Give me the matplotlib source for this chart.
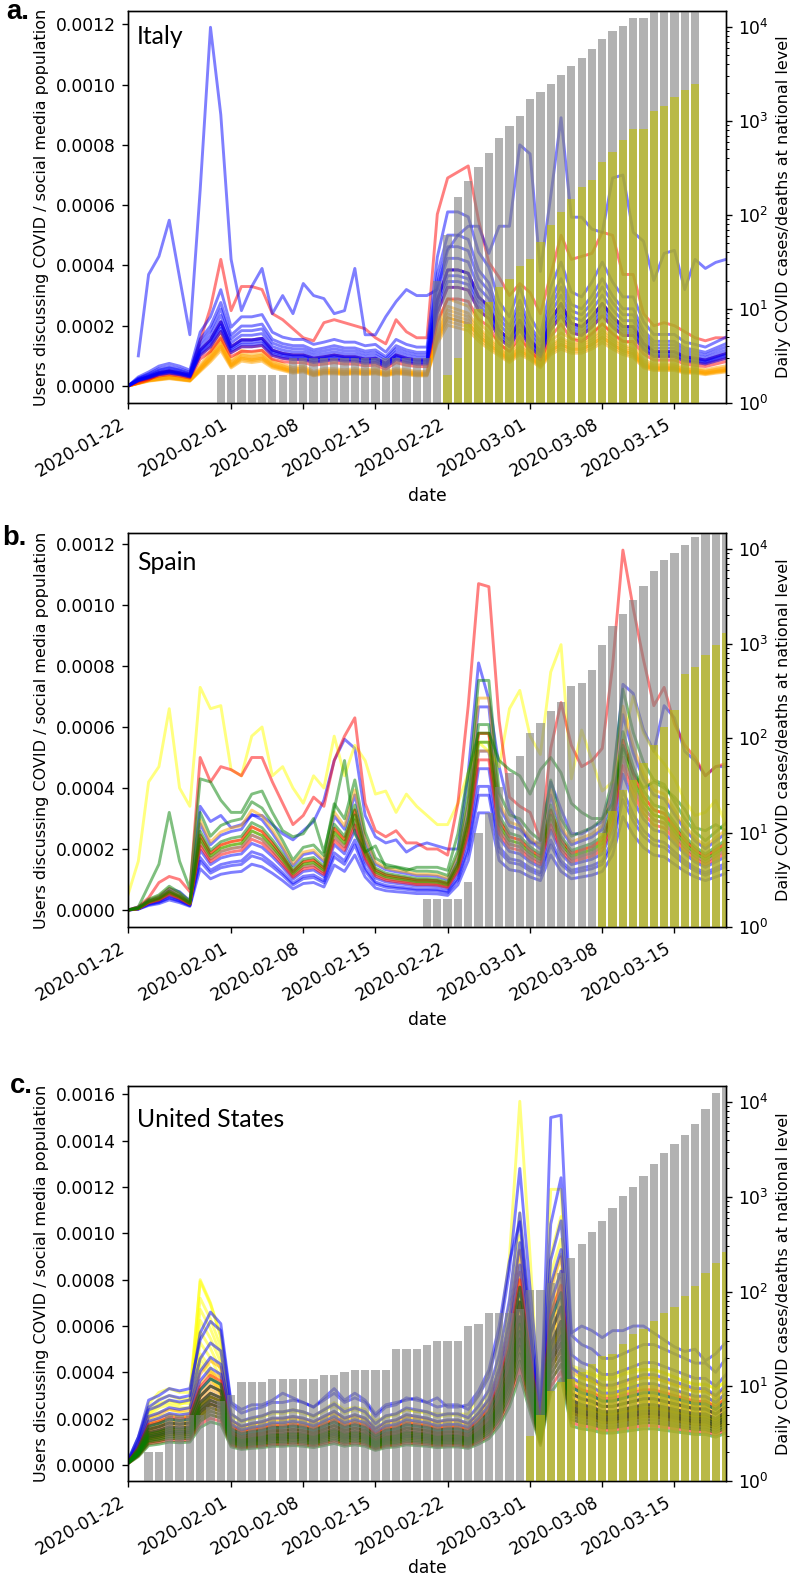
import numpy as np
import pandas as pd
import matplotlib
matplotlib.use("Agg")
import matplotlib.pyplot as plt
import matplotlib.dates as mdates

nan = np.nan
W, H, DPI = 793, 1578, 123
plt.rcParams['font.size'] = 10

dates = pd.date_range("2020-01-22", "2020-03-20", freq="D")
tick_dates = pd.to_datetime(["2020-01-22", "2020-02-01", "2020-02-08", "2020-02-15",
                             "2020-02-22", "2020-03-01", "2020-03-08", "2020-03-15"])

# ---------------- ITALY ----------------
it_cases = [0]*9 + [2]*7 + [3]*14 + [20, 62, 155, 229, 322, 453, 655, 888, 1128, 1694, 2036, 2502,
            3089, 3858, 4636, 5883, 7375, 9172, 10149, 12462, 12462, 17660, 21157, 24747, 27980,
            31506, 0, 0, 0]
it_deaths = [0]*30 + [1, 2, 3, 7, 10, 12, 17, 21, 29, 34, 52, 79, 107, 148, 197, 233, 366, 463, 631,
             827, 827, 1266, 1441, 1809, 2158, 2503, 0, 0, 0]

it_outlier_blue = [nan, 0.00010, 0.00037, 0.00043, 0.00055, 0.00036, 0.00017, 0.00065, 0.00119, 0.00090,
                   0.00042, 0.00025, 0.00033, 0.00039, 0.00024, 0.00030, 0.00024, 0.00034, 0.00030, 0.00029,
                   0.00024, 0.00025, 0.00039, 0.00017, 0.00017, 0.00023, 0.00028, 0.00032, 0.00030, 0.00030,
                   0.00032, 0.00045, 0.00050, 0.00053, 0.00053, 0.00044, 0.00053, 0.00053, 0.00080, 0.00077,
                   0.00038, 0.00063, 0.00089, 0.00056, 0.00056, 0.00052, 0.00051, 0.00069, 0.00070, 0.00051,
                   0.00048, 0.00035, 0.00044, 0.00045, 0.00032, 0.00042, 0.00039, 0.00041, 0.00042]
it_outlier_red = [0.0, 0.00001, 0.00002, 0.00004, 0.00005, 0.00004, 0.00004, 0.00015, 0.00026, 0.00042,
                  0.00025, 0.00033, 0.00033, 0.00032, 0.00024, 0.00022, 0.00019, 0.00016, 0.00015, 0.00021,
                  0.00022, 0.00021, 0.00020, 0.00019, 0.00016, 0.00014, 0.00022, 0.00018, 0.00016, 0.00016,
                  0.00057, 0.00069, 0.00071, 0.00073, 0.00055, 0.00041, 0.00036, 0.00030, 0.00034, 0.00031,
                  0.00024, 0.00037, 0.00050, 0.00042, 0.00043, 0.00044, 0.00051, 0.00050, 0.00037, 0.00037,
                  0.00024, 0.00020, 0.00021, 0.00020, 0.00018, 0.00016, 0.00015, 0.00016, 0.00016]
it_profile = [0.0, 0.000020, 0.000031, 0.000044, 0.000050, 0.000044, 0.000035, 0.000119, 0.000153, 0.000213,
              0.000130, 0.000153, 0.000153, 0.000158, 0.000119, 0.000108, 0.000103, 0.000103, 0.000092, 0.000097,
              0.000103, 0.000097, 0.000097, 0.000089, 0.000092, 0.000075, 0.000103, 0.000092, 0.000086, 0.000086,
              0.000285, 0.000385, 0.000385, 0.000374, 0.000296, 0.000263, 0.000186, 0.000153, 0.000219, 0.000153,
              0.000114, 0.000219, 0.000274, 0.000208, 0.000197, 0.000230, 0.000274, 0.000230, 0.000197, 0.000197,
              0.000142, 0.000114, 0.000114, 0.000114, 0.000097, 0.000092, 0.000086, 0.000097, 0.000108]
it_orange_profile = [0.0, 0.000010, 0.000020, 0.000025, 0.000030, 0.000025, 0.000020, 0.000060, 0.000100, 0.000147,
                     0.000075, 0.000103, 0.000097, 0.000103, 0.000075, 0.000064, 0.000053, 0.000058, 0.000042, 0.000050,
                     0.000050, 0.000047, 0.000050, 0.000047, 0.000050, 0.000042, 0.000050, 0.000047, 0.000042, 0.000042,
                     0.000175, 0.000252, 0.000241, 0.000230, 0.000186, 0.000153, 0.000125, 0.000097, 0.000130, 0.000108,
                     0.000075, 0.000130, 0.000153, 0.000136, 0.000136, 0.000153, 0.000180, 0.000153, 0.000130, 0.000119,
                     0.000075, 0.000064, 0.000064, 0.000064, 0.000053, 0.000053, 0.000047, 0.000053, 0.000058]
it_blue_levels = [1.5, 1.3, 1.2, 1.1, 1.0, 1.0, 0.95, 0.9, 0.85]
it_red_levels = [1.0, 0.85, 0.75]
it_orange_levels = [1.15, 1.05, 1.0, 0.95, 0.9, 0.9, 0.85, 0.8]

# ---------------- SPAIN ----------------
es_cases = [0]*29 + [2, 2, 2, 2, 3, 10, 16, 30, 43, 64, 113, 146, 191, 238, 357, 382, 519, 970, 1545,
                     2050, 2860, 4080, 5800, 7580, 9080, 11100, 13500, 16500, 19000, 22000]
es_deaths = [0]*46 + [10, 17, 28, 36, 55, 85, 130, 200, 480, 570, 760, 970, 1300]

es_outlier_yellow = [0.00005, 0.00016, 0.00042, 0.00047, 0.00066, 0.00040, 0.00034, 0.00073, 0.00066, 0.00067,
                     0.00046, 0.00044, 0.00057, 0.00060, 0.00044, 0.00047, 0.00040, 0.00035, 0.00044, 0.00040,
                     0.00057, 0.00044, 0.00054, 0.00049, 0.00038, 0.00039, 0.00032, 0.00038, 0.00034, 0.00031,
                     0.00028, 0.00028, 0.00035, 0.00045, 0.00055, 0.00052, 0.00047, 0.00066, 0.00072, 0.00057,
                     0.00051, 0.00078, 0.00087, 0.00043, 0.00059, 0.00049, 0.00039, 0.00042, 0.00055, 0.00070,
                     0.00058, 0.00052, 0.00048, 0.00043, 0.00036, 0.00031, 0.00032, 0.00036, 0.00028]
es_outlier_red = [0.0, 0.00001, 0.00004, 0.00009, 0.00011, 0.00010, 0.00006, 0.00050, 0.00042, 0.00047,
                  0.00046, 0.00044, 0.00050, 0.00050, 0.00042, 0.00035, 0.00028, 0.00031, 0.00037, 0.00034,
                  0.00049, 0.00057, 0.00063, 0.00035, 0.00026, 0.00024, 0.00026, 0.00022, 0.00022, 0.00020,
                  0.00020, 0.00018, 0.00035, 0.00067, 0.00107, 0.00106, 0.00062, 0.00037, 0.00034, 0.00032,
                  0.00023, 0.00053, 0.00068, 0.00054, 0.00047, 0.00049, 0.00053, 0.00080, 0.00118, 0.00099,
                  0.00082, 0.00067, 0.00073, 0.00061, 0.00054, 0.00050, 0.00044, 0.00047, 0.00048]
es_outlier_blue = [0.0, 0.00001, 0.00003, 0.00004, 0.00007, 0.00006, 0.00003, 0.00034, 0.00029, 0.00031,
                   0.00027, 0.00028, 0.00031, 0.00031, 0.00028, 0.00025, 0.00023, 0.00026, 0.00029, 0.00036,
                   0.00049, 0.00056, 0.00053, 0.00031, 0.00024, 0.00022, 0.00023, 0.00019, 0.00021, 0.00022,
                   0.00021, 0.00020, 0.00020, 0.00045, 0.00081, 0.00069, 0.00047, 0.00033, 0.00028, 0.00022,
                   0.00022, 0.00042, 0.00033, 0.00025, 0.00025, 0.00027, 0.00029, 0.00040, 0.00074, 0.00071,
                   0.00059, 0.00052, 0.00067, 0.00063, 0.00052, 0.00049, 0.00044, 0.00047, 0.00047]
es_outlier_green = [0.0, 0.00001, 0.00008, 0.00015, 0.00032, 0.00016, 0.00007, 0.00043, 0.00042, 0.00036,
                    0.00032, 0.00032, 0.00038, 0.00039, 0.00032, 0.00026, 0.00024, 0.00025, 0.00030, 0.00019,
                    0.00033, 0.00049, 0.00025, 0.00019, 0.00021, 0.00014, 0.00014, 0.00013, 0.00014, 0.00014,
                    0.00014, 0.00013, 0.00025, 0.00045, 0.00058, 0.00058, 0.00049, 0.00046, 0.00044, 0.00038,
                    0.00046, 0.00050, 0.00045, 0.00035, 0.00032, 0.00030, 0.00030, 0.00035, 0.00054, 0.00045,
                    0.00040, 0.00042, 0.00040, 0.00037, 0.00033, 0.00027, 0.00026, 0.00028, 0.00026]
es_profile = [0.0, 0.000005, 0.000027, 0.000038, 0.000060, 0.000044, 0.000022, 0.000246, 0.000186, 0.000213,
              0.000224, 0.000230, 0.000273, 0.000257, 0.000219, 0.000175, 0.000126, 0.000158, 0.000164, 0.000137,
              0.000268, 0.000230, 0.000328, 0.000197, 0.000131, 0.000115, 0.000109, 0.000104, 0.000098, 0.000098,
              0.000096, 0.000087, 0.000150, 0.000295, 0.000579, 0.000579, 0.000295, 0.000240, 0.000230, 0.000197,
              0.000175, 0.000328, 0.000230, 0.000186, 0.000197, 0.000208, 0.000230, 0.000328, 0.000557, 0.000448,
              0.000372, 0.000328, 0.000317, 0.000273, 0.000230, 0.000197, 0.000175, 0.000197, 0.000219]
es_blue_levels = [1.15, 0.9, 0.8, 0.7, 0.65, 0.55]
es_yellow_levels = [0.95]
es_orange_levels = [1.2, 1.0, 0.9]
es_red_levels = [1.0, 0.85]
es_green_levels = [1.3, 1.05, 0.95]

# ---------------- UNITED STATES ----------------
us_cases = [1, 1, 2, 2, 5, 5, 5, 5, 6, 7, 8, 11, 11, 11, 12, 12, 12, 12, 12, 13, 13, 14, 15, 15, 15, 15,
            25, 25, 25, 27, 30, 30, 30, 43, 45, 60, 60, 60, 65, 105, 105, 124, 158, 228, 316, 430, 550,
            755, 1027, 1280, 1674, 2228, 2915, 3630, 4520, 5910, 8390, 12500, 18000]
us_deaths = [0]*39 + [3, 5, 9, 11, 12, 14, 17, 21, 22, 28, 36, 40, 49, 60, 68, 89, 114, 158, 202, 262]

us_profile = [0.00001, 0.00006, 0.00014, 0.00015, 0.000165, 0.00016, 0.000165, 0.00027, 0.00031, 0.00029,
              0.00013, 0.000112, 0.00012, 0.000125, 0.000135, 0.000135, 0.00014, 0.000135, 0.000125, 0.00014,
              0.000155, 0.000135, 0.000145, 0.000135, 0.000105, 0.000125, 0.00013, 0.000145, 0.00014, 0.000135,
              0.000125, 0.00013, 0.00013, 0.00012, 0.00015, 0.00019, 0.00028, 0.00042, 0.00064, 0.00038,
              0.00014, 0.00052, 0.00062, 0.00028, 0.00026, 0.00025, 0.00023, 0.00023, 0.00024, 0.00025,
              0.00026, 0.00026, 0.00025, 0.00024, 0.00023, 0.00022, 0.00022, 0.00020, 0.00023]
us_yellow_profile = [0.00001, 0.00007, 0.00016, 0.00019, 0.00020, 0.00019, 0.00019, 0.00048, 0.00042, 0.00034,
                     0.00013, 0.000112, 0.00012, 0.000125, 0.000135, 0.000135, 0.00014, 0.000135, 0.000125, 0.00014,
                     0.000155, 0.000135, 0.000145, 0.000135, 0.000105, 0.000125, 0.00013, 0.000145, 0.00014, 0.000135,
                     0.000125, 0.00013, 0.00013, 0.00012, 0.00015, 0.00019, 0.00028, 0.00042, 0.00066, 0.00038,
                     0.00012, 0.00055, 0.00065, 0.00026, 0.00025, 0.00024, 0.00023, 0.00023, 0.00024, 0.00025,
                     0.00025, 0.00025, 0.00024, 0.00023, 0.00022, 0.00021, 0.00021, 0.00020, 0.00022]
us_outlier_yellow = [0.00002, 0.00010, 0.00022, 0.00026, 0.00027, 0.00026, 0.00028, 0.00080, 0.00070, 0.00055,
                     0.00022, 0.00019, 0.00020, 0.00021, 0.00023, 0.00023, 0.00024, 0.00023, 0.00021, 0.00024,
                     0.00027, 0.00024, 0.00025, 0.00024, 0.00019, 0.00021, 0.00022, 0.00024, 0.00023, 0.00023,
                     0.00022, 0.00022, 0.00022, 0.00022, 0.00030, 0.00040, 0.00055, 0.00090, 0.00157, 0.00090,
                     0.00016, 0.00119, 0.00119, 0.00042, 0.00040, 0.00039, 0.00037, 0.00037, 0.00039, 0.00040,
                     0.00041, 0.00041, 0.00040, 0.00038, 0.00036, 0.00035, 0.00035, 0.00033, 0.00036]
us_outlier_blue = [0.00002, 0.00012, 0.00025, 0.00028, 0.00030, 0.00029, 0.00030, 0.00057, 0.00066, 0.00061,
                   0.00027, 0.00024, 0.00026, 0.00026, 0.00028, 0.00031, 0.00029, 0.00027, 0.00025, 0.00029,
                   0.00033, 0.00028, 0.00031, 0.00028, 0.00022, 0.00026, 0.00027, 0.00028, 0.00029, 0.00027,
                   0.00029, 0.00025, 0.00025, 0.00026, 0.00032, 0.00041, 0.00060, 0.00088, 0.00105, 0.00060,
                   0.00016, 0.00150, 0.00151, 0.00057, 0.00060, 0.00058, 0.00055, 0.00058, 0.00058, 0.00060,
                   0.00060, 0.00057, 0.00054, 0.00051, 0.00049, 0.00050, 0.00045, 0.00048, 0.00053]
us_yellow_levels = [1.65, 1.5, 1.4, 1.3, 1.2, 1.1, 1.0, 0.95, 0.9]
us_blue_levels = [2.0, 1.7, 1.5, 1.35, 1.2, 1.1, 1.0, 0.9, 0.85]
us_orange_levels = [1.45, 1.3, 1.15, 1.05, 0.95, 0.85, 0.8]
us_red_levels = [1.25, 1.1, 1.0, 0.95, 0.9, 0.85, 0.8, 0.75, 0.7, 0.65]
us_green_levels = [1.2, 1.1, 1.0, 0.95, 0.9, 0.85, 0.8, 0.75, 0.7, 0.6]

# ---------------- drawing ----------------
fig = plt.figure(figsize=(W / DPI, H / DPI), dpi=DPI)

LW, AL = 1.7, 0.5
YLAB_SIZE = 9.4


def panel(top_px, bot_px, ylim, groups, cases, deaths, letter, letter_xy, name, name_y, xlabelpad=4.0):
    ax = fig.add_axes([128 / W, 1 - bot_px / H, (726 - 128) / W, (bot_px - top_px) / H])
    for series, color in groups:
        ax.plot(dates, series, color=color, alpha=AL, lw=LW)
    ax.set_ylim(*ylim)
    ax.set_ylabel("Users discussing COVID / social media population", fontsize=YLAB_SIZE)
    ax.set_xlabel("date", labelpad=xlabelpad)
    ax2 = ax.twinx()
    c = np.asarray(cases, float)
    d = np.asarray(deaths, float)
    mc = c > 1
    md = d > 1
    ax2.bar(dates[mc], c[mc], width=0.8, color="grey", alpha=0.6)
    ax2.bar(dates[md], d[md], width=0.8, color="y", alpha=0.6)
    ax2.set_yscale("log")
    ax2.set_ylim(1, 10 ** 4.17)
    ax2.set_ylabel("Daily COVID cases/deaths at national level", fontsize=YLAB_SIZE)
    ax.set_xlim(dates[0], dates[-1])
    ax.set_xticks(tick_dates)
    ax.xaxis.set_major_formatter(mdates.DateFormatter("%Y-%m-%d"))
    plt.setp(ax.get_xticklabels(), rotation=30, ha="right")
    fig.text(letter_xy[0] / W, 1 - letter_xy[1] / H, letter, fontsize=16, fontweight="bold",
             family="Liberation Sans", va="baseline", ha="left")
    fig.text(137 / W, 1 - name_y / H, name, fontsize=14.5, family="Lato", va="baseline", ha="left")
    return ax, ax2


def scaled(profile, levels, color):
    p = np.asarray(profile, float)
    return [(lvl * p, color) for lvl in levels]


# Italy
it_groups = (scaled(it_orange_profile, it_orange_levels, "orange")
             + scaled(it_profile, it_red_levels, "red")
             + [(np.asarray(it_outlier_red), "red")]
             + scaled(it_profile, it_blue_levels, "blue")
             + [(np.asarray(it_outlier_blue), "blue")])
panel(11, 403, (-0.0000564, 0.001244), it_groups, it_cases, it_deaths, "a.", (6, 19), "Italy", 44)

# Spain
es_groups = (scaled(es_profile, es_blue_levels, "blue")
             + [(np.asarray(es_outlier_blue), "blue")]
             + [(np.asarray(es_outlier_yellow), "yellow")]
             + scaled(es_profile, es_yellow_levels, "yellow")
             + scaled(es_profile, es_orange_levels, "orange")
             + [(np.asarray(es_outlier_red), "red")]
             + scaled(es_profile, es_red_levels, "red")
             + [(np.asarray(es_outlier_green), "green")]
             + scaled(es_profile, es_green_levels, "green"))
panel(533, 927, (-0.0000557, 0.001236), es_groups, es_cases, es_deaths, "b.", (2, 545), "Spain", 570)

# United States
us_groups = ([(np.asarray(us_outlier_yellow), "yellow")]
             + scaled(us_yellow_profile, us_yellow_levels, "yellow")
             + scaled(us_profile, us_orange_levels, "orange")
             + [(np.asarray(us_outlier_blue), "blue")]
             + scaled(us_profile, us_blue_levels, "blue")
             + scaled(us_profile, us_red_levels, "red")
             + scaled(us_profile, us_green_levels, "green"))
panel(1086, 1481, (-0.000069, 0.001636), us_groups, us_cases, us_deaths, "c.", (10, 1093),
      "United States", 1127, xlabelpad=0.5)

fig.savefig("out.png", dpi=DPI)
